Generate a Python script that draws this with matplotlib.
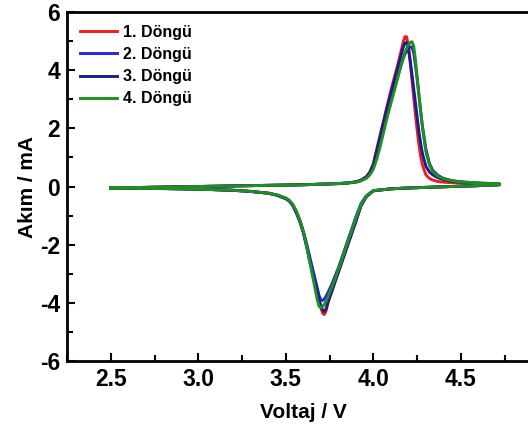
import numpy as np
import matplotlib.pyplot as plt
from matplotlib.ticker import MultipleLocator

plt.rcParams['font.family'] = ['Liberation Sans', 'DejaVu Sans']
plt.rcParams['font.weight'] = 'bold'
plt.rcParams['axes.unicode_minus'] = False

labels = ["1. Döngü", "2. Döngü", "3. Döngü", "4. Döngü"]
colors = ["#ee1c24", "#2424e0", "#1c1c8a", "#1f8f1f"]

# anodic sweep (2.5 -> 4.72 V)
v_up = [2.5, 2.7, 2.9, 3.1, 3.3, 3.5, 3.6, 3.7, 3.8, 3.85, 3.9, 3.93, 3.96, 3.98,
        4.00, 4.02, 4.04, 4.06, 4.08, 4.10, 4.12, 4.14, 4.16, 4.17, 4.18, 4.19,
        4.20, 4.21, 4.22, 4.23, 4.24, 4.25, 4.26, 4.27, 4.28, 4.30, 4.32, 4.34,
        4.37, 4.40, 4.45, 4.50, 4.60, 4.72]
i_up_1 = [-0.05, -0.03, -0.01, 0.01, 0.03, 0.05, 0.06, 0.08, 0.10, 0.12, 0.16, 0.22, 0.34, 0.50,
          0.78, 1.30, 1.80, 2.30, 2.80, 3.30, 3.75, 4.20, 4.70, 4.95, 5.15, 5.15,
          4.85, 4.30, 3.70, 3.10, 2.50, 1.95, 1.45, 1.05, 0.75, 0.40, 0.28, 0.22,
          0.17, 0.15, 0.13, 0.12, 0.10, 0.08]
i_up_2 = [-0.05, -0.03, -0.01, 0.01, 0.03, 0.05, 0.06, 0.08, 0.10, 0.12, 0.15, 0.20, 0.30, 0.43,
          0.65, 1.05, 1.50, 2.00, 2.50, 2.95, 3.40, 3.80, 4.20, 4.40, 4.55, 4.65,
          4.75, 4.80, 4.80, 4.60, 4.20, 3.70, 3.15, 2.60, 2.10, 1.30, 0.80, 0.55,
          0.38, 0.28, 0.20, 0.16, 0.12, 0.09]
i_up_3 = [-0.05, -0.03, -0.01, 0.01, 0.03, 0.05, 0.06, 0.08, 0.10, 0.12, 0.16, 0.22, 0.33, 0.48,
          0.75, 1.25, 1.75, 2.25, 2.75, 3.20, 3.65, 4.10, 4.55, 4.78, 4.93, 4.95,
          4.75, 4.35, 3.90, 3.40, 2.90, 2.40, 1.90, 1.50, 1.15, 0.70, 0.50, 0.40,
          0.30, 0.24, 0.18, 0.15, 0.11, 0.08]
i_up_4 = [-0.05, -0.03, -0.01, 0.01, 0.03, 0.05, 0.06, 0.08, 0.10, 0.12, 0.15, 0.20, 0.28, 0.40,
          0.60, 0.95, 1.40, 1.90, 2.40, 2.85, 3.30, 3.75, 4.20, 4.40, 4.60, 4.75,
          4.87, 4.95, 4.98, 4.85, 4.40, 3.80, 3.20, 2.60, 2.05, 1.20, 0.75, 0.50,
          0.35, 0.27, 0.20, 0.16, 0.12, 0.09]

# cathodic sweep (4.72 -> 2.5 V)
v_down = [4.72, 4.6, 4.5, 4.4, 4.3, 4.2, 4.1, 4.0, 3.96, 3.93, 3.90, 3.88, 3.86, 3.84,
          3.82, 3.80, 3.78, 3.76, 3.74, 3.73, 3.72, 3.71, 3.70, 3.69, 3.68, 3.67,
          3.66, 3.65, 3.64, 3.62, 3.60, 3.58, 3.56, 3.54, 3.52, 3.50, 3.45, 3.40,
          3.30, 3.20, 3.00, 2.80, 2.50]
i_down_1 = [0.06, 0.03, 0.01, -0.01, -0.03, -0.05, -0.08, -0.15, -0.35, -0.65, -1.20, -1.55, -1.90, -2.25,
            -2.60, -2.95, -3.30, -3.65, -4.00, -4.28, -4.40, -4.36, -4.15, -3.88, -3.60, -3.35,
            -3.10, -2.85, -2.60, -2.05, -1.55, -1.15, -0.85, -0.62, -0.48, -0.40, -0.29, -0.23,
            -0.17, -0.13, -0.09, -0.07, -0.05]
i_down_2 = [0.06, 0.03, 0.01, -0.01, -0.03, -0.05, -0.08, -0.14, -0.32, -0.58, -1.05, -1.40, -1.75, -2.10,
            -2.45, -2.80, -3.10, -3.40, -3.65, -3.77, -3.87, -3.92, -3.90, -3.75, -3.50, -3.25,
            -3.00, -2.75, -2.50, -2.00, -1.55, -1.20, -0.90, -0.66, -0.50, -0.42, -0.30, -0.23,
            -0.17, -0.13, -0.09, -0.07, -0.05]
i_down_3 = [0.06, 0.03, 0.01, -0.01, -0.03, -0.05, -0.08, -0.15, -0.35, -0.65, -1.20, -1.55, -1.90, -2.25,
            -2.60, -2.95, -3.30, -3.65, -4.00, -4.20, -4.30, -4.25, -4.10, -3.90, -3.65, -3.40,
            -3.15, -2.90, -2.65, -2.10, -1.60, -1.20, -0.90, -0.65, -0.50, -0.42, -0.30, -0.23,
            -0.17, -0.13, -0.09, -0.07, -0.05]
i_down_4 = [0.06, 0.03, 0.01, -0.01, -0.03, -0.05, -0.08, -0.14, -0.33, -0.60, -1.10, -1.45, -1.80, -2.15,
            -2.50, -2.85, -3.20, -3.50, -3.80, -3.95, -4.05, -4.13, -4.17, -4.12, -3.90, -3.60,
            -3.30, -3.00, -2.70, -2.10, -1.55, -1.15, -0.85, -0.62, -0.48, -0.40, -0.29, -0.23,
            -0.17, -0.13, -0.09, -0.07, -0.05]

i_up = [i_up_1, i_up_2, i_up_3, i_up_4]
i_down = [i_down_1, i_down_2, i_down_3, i_down_4]

fig = plt.figure(figsize=(5.28, 4.29), dpi=100)
ax = fig.add_axes([0.127, 0.1585, 0.895, 0.8135])

for k in range(4):
    v = np.concatenate([v_up, v_down])
    cur = np.concatenate([i_up[k], i_down[k]])
    ax.plot(v, cur, color=colors[k], lw=2.1, label=labels[k],
            solid_joinstyle='round')

ax.set_xlim(2.25, 4.95)
ax.set_ylim(-6, 6)
ax.xaxis.set_major_locator(MultipleLocator(0.5))
ax.xaxis.set_minor_locator(MultipleLocator(0.25))
ax.yaxis.set_major_locator(MultipleLocator(2))
ax.yaxis.set_minor_locator(MultipleLocator(1))
ax.tick_params(which='both', direction='in', width=1.5, labelsize=16.5)
ax.tick_params(which='major', length=6, pad=5)
ax.tick_params(which='minor', length=4)
ax.xaxis.set_major_formatter(plt.FuncFormatter(lambda x, p: "%.1f" % x))
for s in ax.spines.values():
    s.set_linewidth(2)

ax.set_xlabel("Voltaj / V", fontsize=15, fontweight='bold', labelpad=9)
ax.set_ylabel("Akım / mA", fontsize=15, fontweight='bold', labelpad=2)

ax.legend(loc='upper left', frameon=False, handlelength=2.3,
          handletextpad=0.4, labelspacing=0.45, borderaxespad=0.4,
          prop={'weight': 'bold', 'size': 11.5})

fig.savefig("out.png", dpi=100)
